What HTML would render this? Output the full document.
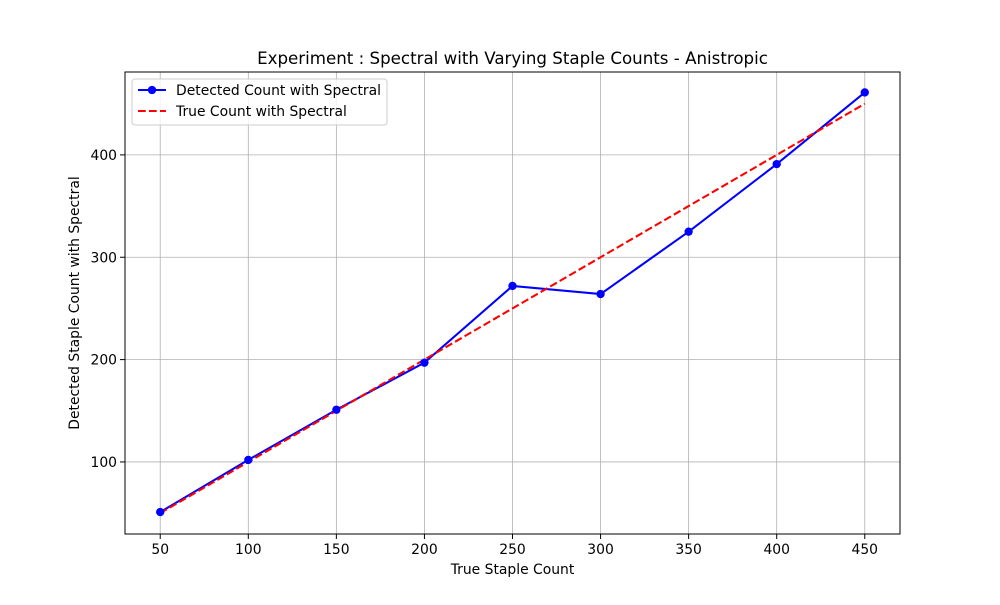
<!DOCTYPE html>
<html><head><meta charset="utf-8"><style>
body{margin:0;background:#fff;}
svg text{font-family:"DejaVu Sans","Liberation Sans",sans-serif;}
</style></head><body>
<svg id="chart" width="1000" height="600" xmlns="http://www.w3.org/2000/svg">
<rect width="1000" height="600" fill="#fff"/>
<g id="grid"></g>
<g id="series"></g>
<rect x="125" y="72" width="775" height="462" fill="none" stroke="#000" stroke-width="1"/>
<g id="ticks"></g>
<text x="512.5" y="64" text-anchor="middle" font-size="16.67">Experiment : Spectral with Varying Staple Counts - Anistropic</text>
<text x="512.5" y="574" text-anchor="middle" font-size="13.9">True Staple Count</text>
<text x="79" y="303" text-anchor="middle" font-size="13.9" transform="rotate(-90 79 303)">Detected Staple Count with Spectral</text>
<g>
<rect x="132" y="79" width="255" height="46" rx="3" fill="#fff" fill-opacity="0.8" stroke="#ccc"/>
<g>
<line x1="138" y1="90" x2="166" y2="90" stroke="blue" stroke-width="2.08"/>
<circle cx="152" cy="90" r="4.17" fill="blue"/>
<text x="176" y="95" font-size="13.9">Detected Count with Spectral</text>
</g>
<g>
<line x1="138" y1="111" x2="166" y2="111" stroke="red" stroke-width="2.08" stroke-dasharray="7.7,3.3"/>
<text x="176" y="116" font-size="13.9">True Count with Spectral</text>
</g>
</g>
</svg>
<script>
const categories=[50,100,150,200,250,300,350,400,450];
const detected=[51,102,151,197,272,264,325,391,461];
const trueCounts=[50,100,150,200,250,300,350,400,450];
const xTicks=[50,100,150,200,250,300,350,400,450];
const yTicks=[100,200,300,400];
const NS="http://www.w3.org/2000/svg";
const L=125,R=900,T=72,B=534;
const xMin=30,xMax=470,yMin=29.6,yMax=481;
function x(v){return L+(v-xMin)/(xMax-xMin)*(R-L);}
function y(v){return B-(v-yMin)/(yMax-yMin)*(B-T);}
function mk(tag,attrs,parent){const e=document.createElementNS(NS,tag);for(const k in attrs)e.setAttribute(k,attrs[k]);parent.appendChild(e);return e;}
const grid=document.getElementById('grid'),ticks=document.getElementById('ticks'),series=document.getElementById('series');
xTicks.forEach(v=>{
 const g=mk('line',{x1:x(v),x2:x(v),y1:T,y2:B,stroke:'#b0b0b0','stroke-width':0.8},grid);
 
 
 mk('line',{x1:x(v),x2:x(v),y1:B,y2:B+5,stroke:'#000'},ticks);
 const t=mk('text',{x:x(v),y:B+20,'text-anchor':'middle','font-size':13.9},ticks);
 t.textContent=v;
 
 
});
yTicks.forEach(v=>{
 const g=mk('line',{x1:L,x2:R,y1:y(v),y2:y(v),stroke:'#b0b0b0','stroke-width':0.8},grid);
 
 
 mk('line',{x1:L-5,x2:L,y1:y(v),y2:y(v),stroke:'#000'},ticks);
 const t=mk('text',{x:L-8,y:y(v)+5,'text-anchor':'end','font-size':13.9},ticks);
 t.textContent=v;
 
 
});
const p1=mk('polyline',{points:categories.map((c,i)=>x(c)+','+y(detected[i])).join(' '),fill:'none',stroke:'blue','stroke-width':2.08},series);


const p2=mk('polyline',{points:categories.map((c,i)=>x(c)+','+y(trueCounts[i])).join(' '),fill:'none',stroke:'red','stroke-width':2.08,'stroke-dasharray':'7.7,3.3'},series);


categories.forEach((c,i)=>{
 const m=mk('circle',{cx:x(c),cy:y(detected[i]),r:4.17,fill:'blue'},series);
 
 
});
</script>
</body></html>
